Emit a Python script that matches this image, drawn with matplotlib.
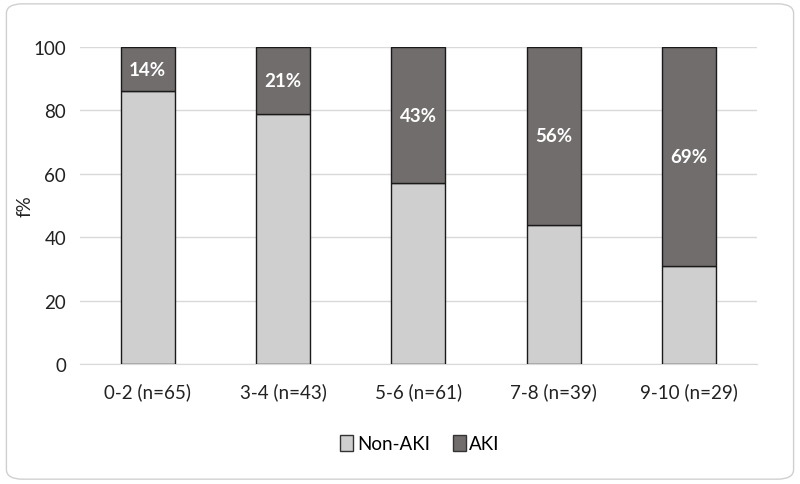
import matplotlib
matplotlib.use("Agg")
import matplotlib.pyplot as plt
from matplotlib.patches import FancyBboxPatch, Patch
import numpy as np

categories = ["0-2 (n=65)", "3-4 (n=43)", "5-6 (n=61)", "7-8 (n=39)", "9-10 (n=29)"]
aki = [14, 21, 43, 56, 69]
non_aki = [86, 79, 57, 44, 31]
aki_labels = ["14%", "21%", "43%", "56%", "69%"]
yticks = [0, 20, 40, 60, 80, 100]

plt.rcParams['font.family'] = ['Lato', 'DejaVu Sans']

fig = plt.figure(figsize=(8, 4.85), dpi=100)
fig.patches.append(FancyBboxPatch((0.008, 0.01), 0.984, 0.98, boxstyle="round,pad=0,rounding_size=0.02",
                                  transform=fig.transFigure, facecolor="white", edgecolor="#d0d0d0",
                                  linewidth=1.0, zorder=-1))
ax = fig.add_axes([0.1, 0.247, 0.846, 0.654])
ax.set_facecolor("none")

x = np.arange(len(categories))
light = "#d0cfcf"
dark = "#716d6c"
ax.bar(x, non_aki, width=0.4, color=light, edgecolor="#1a1a1a", linewidth=1.0, zorder=3, label="Non-AKI")
ax.bar(x, aki, width=0.4, bottom=non_aki, color=dark, edgecolor="#1a1a1a", linewidth=1.0, zorder=3, label="AKI")

for xi, b, h, t in zip(x, non_aki, aki, aki_labels):
    ax.text(xi, b + h / 2, t, ha="center", va="center", color="white", fontsize=13.5,
            fontweight="bold", zorder=4)

ax.set_xlim(-0.5, len(categories) - 0.5)
ax.set_ylim(0, 100)
ax.set_yticks(yticks)
ax.set_xticks(x)
ax.set_xticklabels(categories, fontsize=13.5, color="#222222")
ax.tick_params(axis="y", labelsize=13.5, colors="#222222", length=0, pad=10)
ax.tick_params(axis="x", length=0, pad=13)
ax.yaxis.grid(True, color="#d9d9d9", linewidth=1.0, zorder=0)
for s in ["top", "right", "left"]:
    ax.spines[s].set_visible(False)
ax.spines["bottom"].set_color("#d9d9d9")
ax.set_ylabel("f%", fontsize=13.5, color="#222222")
ax.yaxis.set_label_coords(-0.068, 0.5)

handles = [Patch(facecolor=light, edgecolor="#333333", label="Non-AKI"),
           Patch(facecolor=dark, edgecolor="#333333", label="AKI")]
fig.legend(handles=handles, loc="center", bbox_to_anchor=(0.525, 0.083), ncol=2, frameon=False,
           fontsize=13.5, handlelength=0.7, handleheight=0.9, handletextpad=0.2, columnspacing=1.2)

fig.savefig("out.png", dpi=100)
